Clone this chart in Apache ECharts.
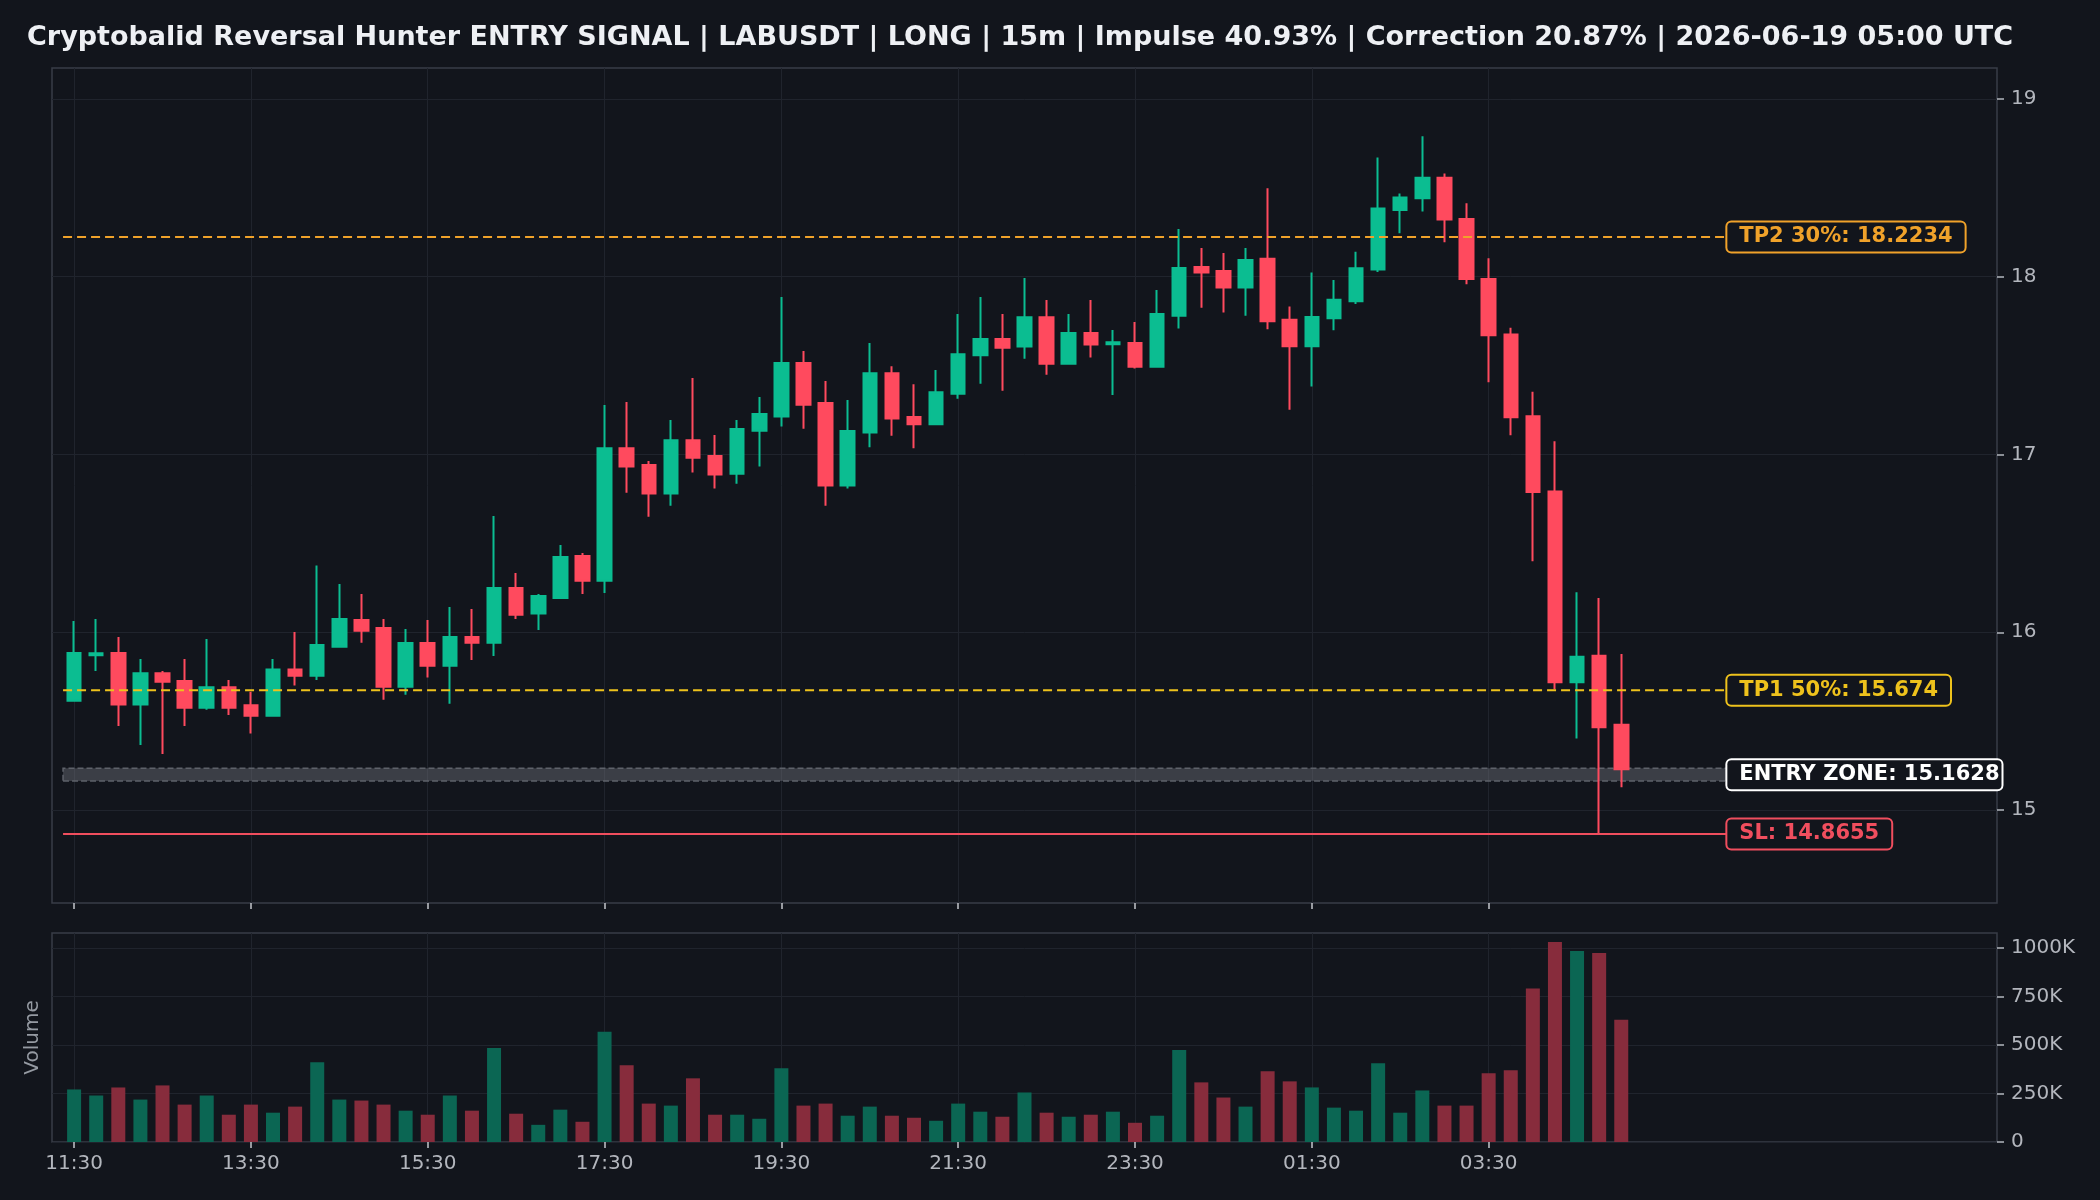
<!DOCTYPE html>
<html>
<head>
<meta charset="utf-8">
<title>LABUSDT entry signal</title>
<script src="https://cdn.jsdelivr.net/npm/echarts@6/dist/echarts.min.js"></script>
<style>
  html, body { margin: 0; padding: 0; background: #12151c; }
  #chart { width: 2100px; height: 1200px; }
</style>
</head>
<body>
<div id="chart"></div>
<script>
// * 15m candles, 11:30 -> 05:00
const opens = [15.615, 15.870, 15.883, 15.593, 15.769, 15.726, 15.576, 15.690, 15.589, 15.531,
  15.791, 15.756, 15.919, 16.069, 16.024, 15.694, 15.940, 15.812, 15.973, 15.941,
  16.249, 16.105, 16.193, 16.429, 16.290, 17.035, 16.941, 16.780, 17.080, 16.992,
  16.892, 17.134, 17.213, 17.515, 17.290, 16.825, 17.123, 17.457, 17.211, 17.170,
  17.342, 17.558, 17.650, 17.607, 17.772, 17.511, 17.684, 17.620, 17.627, 17.494,
  17.781, 18.055, 18.032, 17.939, 18.101, 17.758, 17.609, 17.766, 17.862, 18.040,
  18.375, 18.442, 18.556, 18.325, 17.987, 17.675, 17.215, 16.792, 15.719, 15.868,
  15.479];
const closes = [15.883, 15.882, 15.593, 15.769, 15.722, 15.576, 15.690, 15.576, 15.531, 15.791,
  15.756, 15.928, 16.075, 16.009, 15.694, 15.940, 15.812, 15.973, 15.941, 16.249,
  16.099, 16.204, 16.423, 16.290, 17.035, 16.932, 16.780, 17.080, 16.982, 16.887,
  17.143, 17.228, 17.515, 17.280, 16.825, 17.132, 17.457, 17.202, 17.170, 17.350,
  17.564, 17.650, 17.601, 17.772, 17.511, 17.684, 17.618, 17.631, 17.494, 17.790,
  18.049, 18.023, 17.939, 18.094, 17.750, 17.609, 17.774, 17.870, 18.048, 18.383,
  18.445, 18.556, 18.322, 17.987, 17.670, 17.209, 16.789, 15.719, 15.862, 15.466,
  15.229];
const lows = [15.610, 15.782, 15.473, 15.366, 15.315, 15.473, 15.564, 15.534, 15.430, 15.531,
  15.700, 15.731, 15.919, 15.941, 15.621, 15.649, 15.745, 15.598, 15.844, 15.866,
  16.075, 16.013, 16.187, 16.215, 16.221, 16.785, 16.650, 16.712, 16.898, 16.808,
  16.836, 16.932, 17.157, 17.145, 16.712, 16.808, 17.040, 17.106, 17.035, 17.170,
  17.314, 17.398, 17.359, 17.539, 17.449, 17.511, 17.545, 17.335, 17.483, 17.494,
  17.708, 17.826, 17.798, 17.781, 17.705, 17.252, 17.382, 17.699, 17.846, 18.027,
  18.245, 18.367, 18.194, 17.957, 17.406, 17.108, 16.400, 15.679, 15.402, 14.864,
  15.128];
const highs = [16.063, 16.075, 15.973, 15.850, 15.782, 15.850, 15.962, 15.731, 15.666, 15.850,
  16.001, 16.376, 16.271, 16.215, 16.075, 16.018, 16.069, 16.142, 16.131, 16.654,
  16.333, 16.215, 16.491, 16.446, 17.278, 17.295, 16.963, 17.194, 17.430, 17.110,
  17.194, 17.323, 17.886, 17.582, 17.414, 17.307, 17.627, 17.496, 17.395, 17.475,
  17.790, 17.886, 17.790, 17.993, 17.869, 17.790, 17.869, 17.700, 17.745, 17.925,
  18.269, 18.162, 18.134, 18.162, 18.498, 17.832, 18.024, 17.981, 18.141, 18.671,
  18.468, 18.790, 18.580, 18.413, 18.104, 17.713, 17.353, 17.074, 16.225, 16.193,
  15.878];
// volume in K
const volumes = [270.8, 239.6, 281.0, 218.7, 291.6, 192.7, 239.6, 140.6, 192.7, 151.0,
  182.3, 411.4, 218.7, 213.5, 192.7, 161.4, 140.6, 239.6, 161.4, 484.3,
  145.8, 88.5, 166.7, 104.2, 567.7, 395.8, 197.9, 187.5, 328.1, 140.6,
  140.6, 119.8, 380.2, 187.5, 197.9, 135.4, 182.3, 135.4, 125.0, 109.4,
  197.9, 156.2, 130.2, 255.2, 151.0, 130.2, 140.6, 156.2, 99.0, 135.4,
  474.0, 307.3, 229.2, 182.3, 364.6, 312.5, 281.2, 177.1, 161.4, 406.2,
  151.0, 265.6, 187.5, 187.5, 354.1, 369.8, 791.6, 1031.0, 984.3, 973.9,
  630.2];

const tickLabels = ['11:30', '13:30', '15:30', '17:30', '19:30', '21:30', '23:30', '01:30', '03:30'];
const priceTicks = [15, 16, 17, 18, 19];
const volumeTicks = [0, 250000, 500000, 750000, 1000000];

// * levels
const tp2 = 18.2234;
const tp1 = 15.674;
const entry = 15.1628;
const entryTop = 15.235;
const sl = 14.8655;

const titleText = 'Cryptobalid Reversal Hunter ENTRY SIGNAL | LABUSDT | LONG | 15m | Impulse 40.93% | Correction 20.87% | 2026-06-19 05:00 UTC';

const UP = '#0bbd91';
const DOWN = '#ff4a5e';
const UP_VOL = '#0b6653';
const DOWN_VOL = '#872c3c';
const BG = '#12151c';
const GRID = '#20242d';
const FRAME = '#393d47';
const TXT = '#b3b6bd';
const FONT = 'DejaVu Sans';

// category axis: one pad slot on the left, empty room on the right
const times = ['pad0'];
for (let i = 0; i < opens.length; i++) {
  const m = 11 * 60 + 30 + i * 15;
  const hh = Math.floor(m / 60) % 24, mm = m % 60;
  times.push(String(hh).padStart(2, '0') + ':' + String(mm).padStart(2, '0'));
}
while (times.length < 89) times.push('pad' + times.length);

const showTick = (idx, val) => tickLabels.includes(val);

const candleData = opens.map((o, i) => [i + 1, o, closes[i], lows[i], highs[i]]);
const volumeData = volumes.map((v, i) => ({
  value: [i + 1, v * 1000],
  itemStyle: { color: closes[i] >= opens[i] ? UP_VOL : DOWN_VOL }
}));

const lineStart = 0.5;
const lineEnd = 75.8;

function levelLine(value, color, type, text) {
  return {
    type: 'line', xAxisIndex: 2, yAxisIndex: 0, symbol: 'none', silent: true, z: 5,
    data: [[lineStart, value], [lineEnd, value]],
    lineStyle: { color: color, width: 2, type: type },
    endLabel: {
      show: true, formatter: text, color: color, fontFamily: FONT, fontWeight: 'bold', fontSize: 21,
      backgroundColor: BG, borderColor: color, borderWidth: 2, borderRadius: 4,
      padding: [5, 12, 3, 12], distance: 0
    }
  };
}

let entrySeries = levelLine((entry + entryTop) / 2, '#ffffff', 'solid', 'ENTRY ZONE: ' + entry);
entrySeries.lineStyle.opacity = 0;
entrySeries.endLabel.padding = [5, 2, 3, 12];
entrySeries.markArea = {
  silent: true,
  itemStyle: { color: 'rgba(110,114,122,0.45)', borderColor: '#5e626a', borderWidth: 1.5, borderType: 'dashed' },
  data: [[{ coord: [lineStart, entry] }, { coord: [lineEnd, entryTop] }]]
};

let option = {
  backgroundColor: BG,
  animation: false,
  title: {
    text: titleText, left: 22, top: 19,
    textStyle: { color: '#eef0f4', fontFamily: FONT, fontWeight: 'bold', fontSize: 27 }
  },
  grid: [
    { left: 52, top: 68, width: 1945, height: 835, show: true, backgroundColor: BG, borderColor: FRAME, borderWidth: 1.5 },
    { left: 52, top: 933, width: 1945, height: 209, show: true, backgroundColor: BG, borderColor: FRAME, borderWidth: 1.5 }
  ],
  xAxis: [
    {
      type: 'category', gridIndex: 0, data: times, boundaryGap: false,
      axisLine: { show: false, onZero: false },
      axisTick: { show: true, interval: showTick, length: 6, lineStyle: { color: '#c3c6cc', width: 1.5 } },
      axisLabel: { show: false },
      splitLine: { show: true, interval: showTick, lineStyle: { color: GRID, width: 1 } }
    },
    {
      type: 'category', gridIndex: 1, data: times, boundaryGap: false,
      axisLine: { show: false, onZero: false },
      axisTick: { show: true, interval: showTick, length: 6, lineStyle: { color: '#c3c6cc', width: 1.5 } },
      axisLabel: { interval: showTick, color: TXT, fontFamily: FONT, fontSize: 20, margin: 12 },
      splitLine: { show: true, interval: showTick, lineStyle: { color: GRID, width: 1 } }
    },
    { type: 'value', gridIndex: 0, min: 0, max: 88, show: false, axisLine: { onZero: false } }
  ],
  yAxis: [
    {
      type: 'value', gridIndex: 0, position: 'right', min: 14.477, max: 19.174,
      axisLine: { show: false, onZero: false },
      axisTick: { show: true, customValues: priceTicks, length: 7, lineStyle: { color: TXT, width: 1.5 } },
      axisLabel: { customValues: priceTicks, color: TXT, fontFamily: FONT, fontSize: 20, margin: 14 },
      splitLine: { show: true, lineStyle: { color: GRID, width: 1 } }
    },
    {
      type: 'value', gridIndex: 1, position: 'right', min: 0, max: 1077000, interval: 250000,
      axisLine: { show: false, onZero: false },
      axisTick: { show: true, customValues: volumeTicks, length: 7, lineStyle: { color: TXT, width: 1.5 } },
      axisLabel: {
        customValues: volumeTicks, color: TXT, fontFamily: FONT, fontSize: 20, margin: 14,
        formatter: v => v === 0 ? '0' : (v / 1000) + 'K'
      },
      splitLine: { show: true, lineStyle: { color: GRID, width: 1 } }
    },
    {
      type: 'value', gridIndex: 1, position: 'left', name: 'Volume', nameLocation: 'middle', nameGap: 9,
      nameTextStyle: { color: '#959aa2', fontFamily: FONT, fontSize: 20 },
      axisLine: { show: false, onZero: false }, axisTick: { show: false }, axisLabel: { show: false }, splitLine: { show: false }
    }
  ],
  series: [
    {
      type: 'candlestick', xAxisIndex: 0, yAxisIndex: 0, z: 3,
      data: candleData, encode: { x: 0, y: [1, 2, 3, 4] },
      barWidth: 14,
      itemStyle: { color: UP, color0: DOWN, borderColor: UP, borderColor0: DOWN, borderColorDoji: UP, borderWidth: 2 }
    },
    {
      type: 'bar', xAxisIndex: 1, yAxisIndex: 1, barWidth: 14,
      data: volumeData
    },
    levelLine(tp2, '#f0a22a', [9, 5], 'TP2 30%: ' + tp2),
    levelLine(tp1, '#eec21c', [9, 5], 'TP1 50%: ' + tp1),
    entrySeries,
    levelLine(sl, '#f04e5e', 'solid', 'SL: ' + sl)
  ]
};

let chart = echarts.init(document.getElementById('chart'));
chart.setOption(option);
</script>
</body>
</html>
